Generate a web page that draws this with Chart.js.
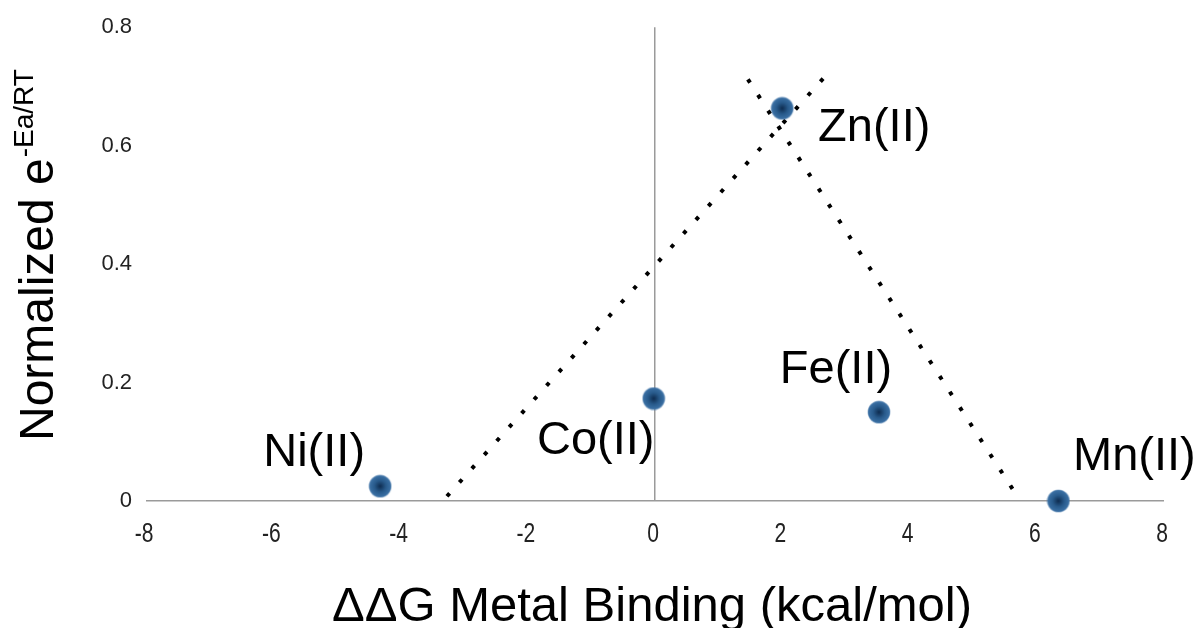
<!DOCTYPE html>
<html>
<head>
<meta charset="utf-8">
<script src="https://cdn.jsdelivr.net/npm/chart.js@4/dist/chart.umd.min.js"></script>
<style>
  body { margin: 0; background: #fff; }
  canvas { display: block; }
</style>
</head>
<body>
<canvas id="chart" width="1199" height="628"></canvas>
<script>
const metals = ['Ni(II)', 'Co(II)', 'Zn(II)', 'Fe(II)', 'Mn(II)'];
const ddG = [-4.32, -0.02, 2.0, 3.52, 6.34];
const rate = [0.025, 0.173, 0.663, 0.15, 0.0];

// dotted guide lines (endpoints)
const leftLineX = [-3.27, 2.75];
const leftLineY = [0.008, 0.726];
const rightLineX = [1.46, 5.70];
const rightLineY = [0.712, 0.007];

const xTicks = [-8, -6, -4, -2, 0, 2, 4, 6, 8];
const yTicks = [0, 0.2, 0.4, 0.6, 0.8];

// label offsets from each point, in px
const labelOffsets = [[-66, -20], [-58, 55], [92, 33], [-43, -29], [76, -31]];

const FONT = "'Liberation Sans', Arial, sans-serif";

// shaded blue dot used as point style
function makeDot() {
    const c = document.createElement('canvas');
    c.width = 24; c.height = 24;
    const g = c.getContext('2d');
    const grad = g.createRadialGradient(12, 12, 0, 12, 12, 11.5);
    grad.addColorStop(0, '#0e2c50');
    grad.addColorStop(0.5, '#285a8b');
    grad.addColorStop(0.9, '#3a6fa3');
    grad.addColorStop(1, 'rgba(70,120,170,0.5)');
    g.fillStyle = grad;
    g.beginPath();
    g.arc(12, 12, 11.5, 0, Math.PI * 2);
    g.fill();
    return c;
}

function toPoints(xs, ys) {
    return xs.map((x, i) => ({ x: x, y: ys[i] }));
}

const textPlugin = {
    id: 'textPlugin',
    afterDraw(chart) {
        const ctx = chart.ctx;
        const meta = chart.getDatasetMeta(0);
        const xScale = chart.scales.x;
        ctx.save();
        ctx.fillStyle = '#000';
        ctx.textBaseline = 'alphabetic';

        // x tick labels, horizontally condensed like the original
        ctx.save();
        ctx.fillStyle = '#222';
        ctx.font = '27px ' + FONT;
        ctx.textAlign = 'center';
        ctx.textBaseline = 'middle';
        xTicks.forEach(v => {
            const px = xScale.getPixelForValue(v);
            ctx.save();
            ctx.translate(px - 2, 535);
            ctx.scale(0.78, 1);
            ctx.fillText(String(v), 0, 0);
            ctx.restore();
        });
        ctx.restore();

        // point labels
        ctx.font = '47px ' + FONT;
        ctx.textAlign = 'center';
        meta.data.forEach((pt, i) => {
            ctx.fillText(metals[i], pt.x + labelOffsets[i][0], pt.y + labelOffsets[i][1]);
        });

        // x axis title
        const area = chart.chartArea;
        ctx.font = '49px ' + FONT;
        ctx.fillText('\u0394\u0394G Metal Binding (kcal/mol)', (area.left + area.right) / 2 - 3, 621);

        // y axis title with superscript
        ctx.save();
        ctx.translate(53, 441);
        ctx.rotate(-Math.PI / 2);
        ctx.textAlign = 'left';
        ctx.font = '48px ' + FONT;
        const main = 'Normalized e';
        ctx.fillText(main, 0, 0);
        const w = ctx.measureText(main).width;
        ctx.font = '28px ' + FONT;
        ctx.fillText('-Ea/RT', w + 1, -20);
        ctx.restore();

        ctx.restore();
    }
};

const zeroLine = (ctx) => ctx.tick && ctx.tick.value === 0 ? '#9a9a9a' : 'rgba(0,0,0,0)';

new Chart(document.getElementById('chart'), {
    type: 'scatter',
    data: {
        datasets: [
            {
                label: 'metals',
                data: toPoints(ddG, rate),
                pointStyle: makeDot(),
                pointRadius: 11,
                showLine: false,
                clip: false
            },
            {
                label: 'left',
                data: toPoints(leftLineX, leftLineY),
                showLine: true,
                borderColor: '#000',
                borderWidth: 4,
                borderDash: [4, 14.6],
                pointRadius: 0
            },
            {
                label: 'right',
                data: toPoints(rightLineX, rightLineY),
                showLine: true,
                borderColor: '#000',
                borderWidth: 4,
                borderDash: [4, 14.6],
                pointRadius: 0
            }
        ]
    },
    options: {
        responsive: false,
        animation: false,
        layout: { padding: { top: 26, right: 35, left: 0, bottom: 0 } },
        plugins: {
            legend: { display: false },
            tooltip: { enabled: false }
        },
        scales: {
            x: {
                type: 'linear',
                min: -8,
                max: 8,
                afterBuildTicks: (axis) => { axis.ticks = xTicks.map(v => ({ value: v })); },
                afterFit: (axis) => { axis.height = 127; },
                grid: { color: zeroLine, lineWidth: 1.5, drawTicks: false },
                border: { display: false },
                ticks: {
                    display: false,
                    maxRotation: 0
                }
            },
            y: {
                type: 'linear',
                min: 0,
                max: 0.8,
                afterBuildTicks: (axis) => { axis.ticks = yTicks.map(v => ({ value: v })); },
                afterFit: (axis) => { axis.width = 146; },
                grid: { color: zeroLine, lineWidth: 1.5, drawTicks: false },
                border: { display: false },
                ticks: {
                    padding: 14,
                    color: '#222',
                    font: { family: FONT, size: 22 }
                }
            }
        }
    },
    plugins: [textPlugin]
});
</script>
</body>
</html>
